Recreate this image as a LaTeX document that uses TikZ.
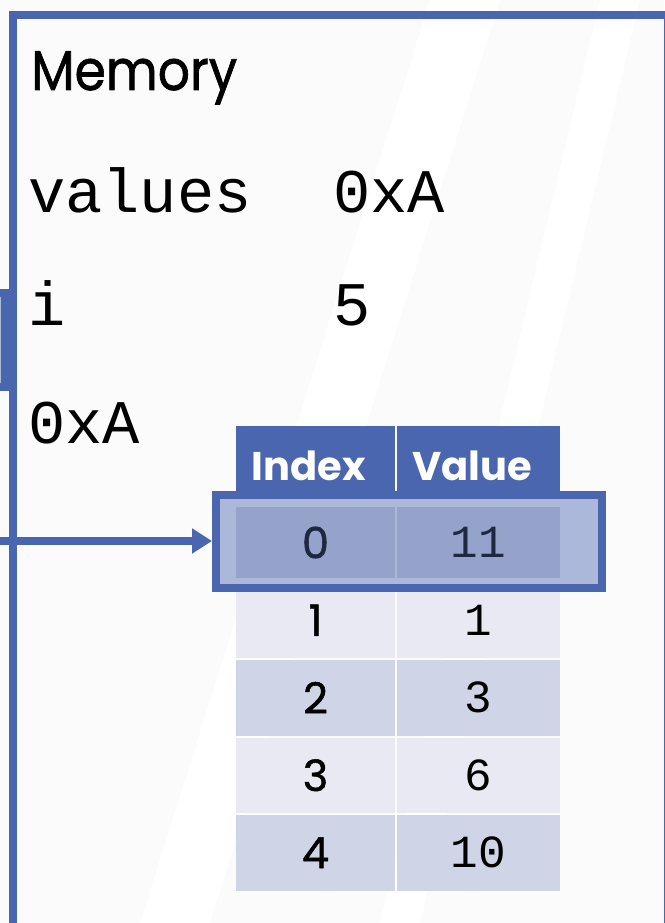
\documentclass[tikz,border=0pt]{standalone}
\usepackage{fontspec}
\setmainfont{Poppins}
\newfontfamily\gothic{Poppins}[FakeBold=1.2]
\newfontfamily\monof{Liberation Mono}
\usetikzlibrary{arrows.meta}
\definecolor{mblue}{HTML}{4A66AE}
\definecolor{hlfill}{HTML}{ABB8DA}
\definecolor{hlcell}{HTML}{95A3CB}
\definecolor{rowa}{HTML}{E8E9F2}
\definecolor{rowb}{HTML}{CFD4E6}
\definecolor{bgc}{HTML}{FBFBFB}
\definecolor{darktxt}{HTML}{1E2840}
\tikzset{
  cell/.style={anchor=north west, inner sep=0pt, outer sep=0pt, minimum height=75.5pt},
  cola/.style={cell, minimum width=159pt},
  colb/.style={cell, minimum width=163pt},
  memtxt/.style={anchor=base west, inner sep=0pt, font=\monof\fontsize{62}{70}\selectfont},
  idxtxt/.style={inner sep=0pt, font=\gothic\fontsize{43}{48}\selectfont},
  valtxt/.style={inner sep=0pt, font=\monof\fontsize{46}{52}\selectfont},
  hdrtxt/.style={anchor=base, inner sep=0pt, text=white, font=\bfseries\fontsize{40}{46}\selectfont},
  bline/.style={draw=mblue, line width=8pt},
}
\begin{document}
\begin{tikzpicture}[x=1pt,y=-1pt]
\useasboundingbox (0,0) rectangle (664,923);
\fill[bgc] (0,0) rectangle (664,923);
\begin{scope}
\clip (0,0) rectangle (664,923);
\fill[white] (430,0) -- (500,0) -- (210,923) -- (140,923) -- cycle;
\fill[white] (600,0) -- (640,0) -- (420,923) -- (380,923) -- cycle;
\end{scope}
% partial box on the left
\node[bline, fill=hlfill, inner sep=0pt, minimum width=60pt, minimum height=94pt, anchor=north east] (lbox) at (9,289) {};
% main memory box
\node[bline, inner sep=0pt, minimum width=655pt, minimum height=915pt, anchor=north west] (mem) at (9,11) {};
\node[anchor=base west, inner sep=0pt, font=\gothic\fontsize{56}{62}\selectfont] (title) at (31,90) {\scalebox{0.9}[1]{Memory}};
\node[memtxt] (vname) at (28,212) {values};
\node[memtxt] (vval) at (333,212) {0xA};
\node[memtxt] (iname) at (28,325) {i};
\node[memtxt] (ival) at (333,325) {5};
\node[memtxt] (addr) at (28,443) {0xA};
% table header
\node[cola, fill=mblue, minimum height=77pt] (h1) at (236,426) {};
\node[colb, fill=mblue, minimum height=77pt] (h2) at (397,426) {};
\node[hdrtxt] (h1t) at (309,480) {Index};
\node[hdrtxt] (h2t) at (472,480) {Value};
% rows 1..4
\node[cola, fill=rowa] (r1a) at (236,582.5) {};
\node[colb, fill=rowa] (r1b) at (397,582.5) {};
\node[cola, fill=rowb] (r2a) at (236,660) {};
\node[colb, fill=rowb] (r2b) at (397,660) {};
\node[cola, fill=rowa] (r3a) at (236,737.5) {};
\node[colb, fill=rowa] (r3b) at (397,737.5) {};
\node[cola, fill=rowb] (r4a) at (236,815) {};
\node[colb, fill=rowb] (r4b) at (397,815) {};
\node[idxtxt] at (r1a) {1};
\node[valtxt] at (r1b) {1};
\node[idxtxt] at (r2a) {2};
\node[valtxt] at (r2b) {3};
\node[idxtxt] at (r3a) {3};
\node[valtxt] at (r3b) {6};
\node[idxtxt] at (r4a) {4};
\node[valtxt] at (r4b) {10};
% highlighted row 0
\node[bline, fill=hlfill, inner sep=0pt, minimum width=386pt, minimum height=93pt] (hl) at (409,541.5) {};
\node[cola, fill=hlcell, minimum height=71pt] (r0a) at (236,507) {};
\node[colb, fill=hlcell, minimum height=71pt] (r0b) at (397,507) {};
\node[idxtxt, text=darktxt] at (r0a) {0};
\node[valtxt, text=darktxt] at (r0b) {11};
% arrow
\coordinate (astart) at (-5,541);
\draw[mblue, line width=8pt, -{Triangle[length=20pt,width=24pt]}] (astart) -- (hl.west |- astart);
\end{tikzpicture}
\end{document}
